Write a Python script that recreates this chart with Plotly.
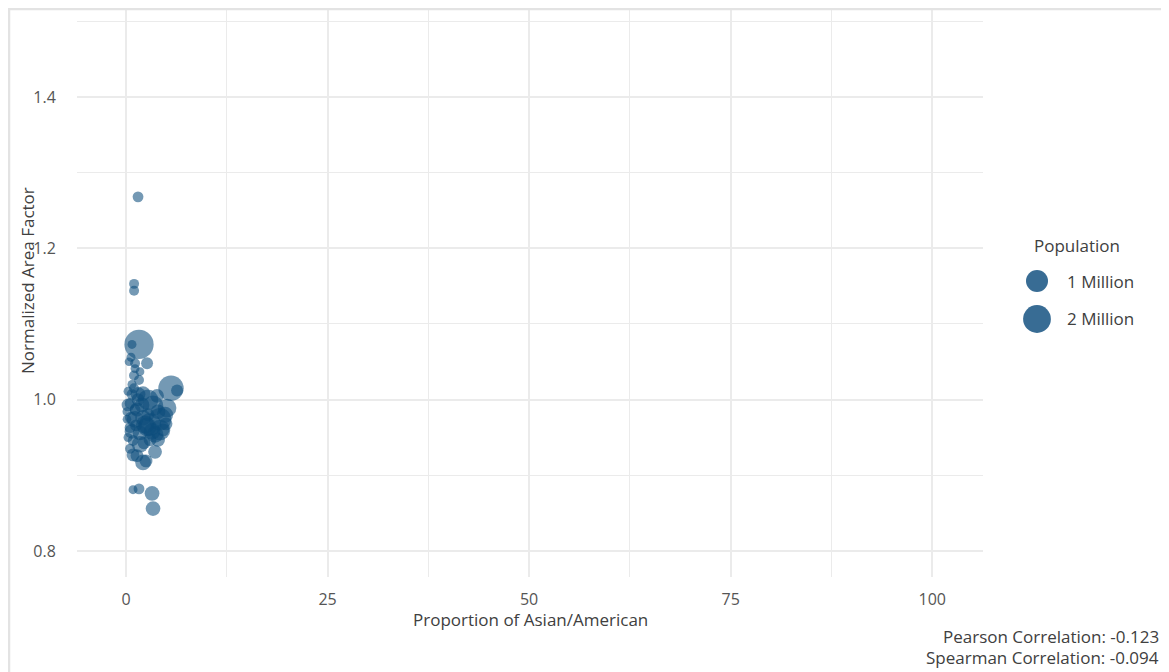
import numpy as np
import plotly.graph_objects as go

# ---- data ----
proportion_asian = [1.49, 1.00, 1.00, 1.61, 0.74, 0.62, 1.12, 2.61, 1.12, 0.99,
                    1.61, 0.74, 0.99, 5.58, 6.33, 0.25, 0.74, 2.11, 3.85, 0.50,
                    1.99, 3.35, 5.09, 0.12, 0.62, 2.11, 4.22, 4.96, 0.50, 1.74,
                    3.23, 4.59, 0.25, 0.87, 2.23, 0.50, 3.60, 1.36, 2.11, 2.48,
                    0.87, 1.61, 3.23, 3.35, 1.24, 2.73, 2.98, 0.12, 1.49, 3.97,
                    2.61, 1.12, 0.37, 1.74, 2.73, 4.22, 1.12, 1.74, 0.74, 2.98,
                    0.25, 0.87, 3.60, 1.49, 3.97, 4.84, 2.36, 1.36]
area_factor = [1.268, 1.153, 1.144, 1.073, 1.073, 1.056, 1.048, 1.048, 1.041, 1.032,
               1.026, 1.020, 1.015, 1.015, 1.012, 1.011, 1.007, 1.008, 1.005, 0.995,
               0.993, 0.992, 0.989, 0.984, 0.976, 0.976, 0.974, 0.968, 0.963, 0.956,
               0.958, 0.960, 0.950, 0.946, 0.943, 0.935, 0.931, 0.926, 0.917, 0.919,
               0.881, 0.882, 0.876, 0.856, 0.966, 0.980, 0.947, 0.974, 1.000, 0.984,
               0.964, 0.987, 1.050, 1.037, 1.000, 0.960, 0.974, 0.941, 0.958, 0.967,
               0.993, 0.927, 0.954, 1.007, 0.947, 0.980, 0.967, 0.987]
population_m = [0.04, 0.02, 0.02, 2.30, 0.005, 0.005, 0.02, 0.08, 0.005, 0.02,
                0.02, 0.005, 0.02, 1.54, 0.08, 0.005, 0.04, 0.23, 0.17, 0.04,
                0.23, 0.80, 0.58, 0.005, 0.08, 0.30, 1.07, 0.12, 0.04, 0.23,
                0.39, 0.12, 0.005, 0.04, 0.12, 0.02, 0.17, 0.12, 0.30, 0.12,
                0.005, 0.04, 0.23, 0.23, 0.08, 0.12, 0.12, 0.002, 0.12, 0.23,
                0.58, 0.04, 0.002, 0.002, 0.80, 0.80, 0.385, 0.385, 0.23, 1.07,
                0.12, 0.12, 0.385, 0.23, 0.18, 0.33, 0.51, 0.18]

legend_breaks = [1, 2]
legend_labels = ["1 Million", "2 Million"]
x_ticks = [0, 25, 50, 75, 100]
y_ticks = [0.8, 1.0, 1.2, 1.4]
pearson = -0.123
spearman = -0.094

# ---- style ----
FONT = "Open Sans, Noto Sans, DejaVu Sans, sans-serif"
POINT = "rgba(12,76,124,0.82)"
GRID = "#ebebeb"
TXT = "#404040"
OFF = 8                      # page body margin of the browser
W, H = 1169 - OFF, 672 - OFF
L, R, T, B = 69, 186, 0, 95
PW, PH = W - L - R, H - T - B


def size_of(pop):
    return 8 + 14 * np.sqrt(np.asarray(pop, dtype=float))


def px(xpix):
    return (xpix - OFF - L) / PW


def py(ypix):
    return (H - B - (ypix - OFF)) / PH


fig = go.Figure()
fig.add_trace(go.Scatter(
    x=proportion_asian, y=area_factor, mode="markers",
    marker=dict(size=size_of(population_m), sizemode="diameter",
                color=POINT, line=dict(width=0)),
    showlegend=False, hoverinfo="x+y",
))

shapes = []
annotations = []

# custom size legend
annotations.append(dict(text="Population", x=px(1032), y=py(245), xref="paper", yref="paper",
                        xanchor="left", yanchor="middle", showarrow=False,
                        font=dict(family=FONT, size=17, color=TXT)))
for i, (brk, lab) in enumerate(zip(legend_breaks, legend_labels)):
    cy = [281, 319][i]
    d = float(size_of([brk])[0])
    shapes.append(dict(type="circle", xref="paper", yref="paper",
                       xsizemode="pixel", ysizemode="pixel",
                       xanchor=px(1037), yanchor=py(cy),
                       x0=-d / 2, x1=d / 2, y0=-d / 2, y1=d / 2,
                       fillcolor=POINT, line=dict(width=0)))
    annotations.append(dict(text=lab, x=px(1065), y=py(cy), xref="paper", yref="paper",
                            xanchor="left", yanchor="middle", showarrow=False,
                            font=dict(family=FONT, size=17, color=TXT)))

# axis titles
annotations.append(dict(text="Proportion of Asian/American", x=0.5, y=py(619),
                        xref="paper", yref="paper", xanchor="center", yanchor="middle",
                        showarrow=False, font=dict(family=FONT, size=17, color=TXT)))
annotations.append(dict(text="Normalized Area Factor", x=px(27), y=py(281),
                        xref="paper", yref="paper", xanchor="center", yanchor="middle",
                        textangle=-90, showarrow=False,
                        font=dict(family=FONT, size=17, color=TXT)))

# correlation captions
annotations.append(dict(text=f"Pearson Correlation: {pearson:.3f}", x=px(1161), y=py(636),
                        xref="paper", yref="paper", xanchor="right", yanchor="middle",
                        showarrow=False, font=dict(family=FONT, size=17, color=TXT)))
annotations.append(dict(text=f"Spearman Correlation: {spearman:.3f}", x=px(1161), y=py(657),
                        xref="paper", yref="paper", xanchor="right", yanchor="middle",
                        showarrow=False, font=dict(family=FONT, size=17, color=TXT)))

# image frame (left and top edges)
shapes.append(dict(type="line", xref="paper", yref="paper", x0=px(OFF + 1), x1=px(OFF + 1),
                   y0=py(OFF), y1=py(H + OFF + 2), line=dict(color="#e3e3e3", width=2.5)))
shapes.append(dict(type="line", xref="paper", yref="paper", x0=px(OFF), x1=px(W + OFF + 2),
                   y0=py(OFF + 1), y1=py(OFF + 1), line=dict(color="#e3e3e3", width=2.5)))

fig.update_layout(
    width=W, height=H,
    margin=dict(l=L, r=R, t=T, b=B),
    plot_bgcolor="white", paper_bgcolor="white",
    font=dict(family=FONT, size=16, color=TXT),
    shapes=shapes, annotations=annotations,
    showlegend=False,
)
fig.update_xaxes(
    range=[-6.08, 106.3], tickvals=x_ticks, ticktext=[str(v) for v in x_ticks],
    showgrid=True, gridcolor=GRID, gridwidth=1.5, zeroline=False, showline=False,
    ticks="outside", ticklen=8, tickcolor="rgba(0,0,0,0)",
    tickfont=dict(family=FONT, size=16, color="#555555"),
    minor=dict(tickvals=[12.5, 37.5, 62.5, 87.5], showgrid=True, gridcolor=GRID, gridwidth=1.2),
)
fig.update_yaxes(
    range=[0.7656, 1.5176], tickvals=y_ticks, ticktext=[f"{v:.1f}" for v in y_ticks],
    showgrid=True, gridcolor=GRID, gridwidth=1.5, zeroline=False, showline=False,
    ticks="outside", ticklen=17, tickcolor="rgba(0,0,0,0)",
    tickfont=dict(family=FONT, size=16, color="#555555"),
    minor=dict(tickvals=[0.9, 1.1, 1.3, 1.5], showgrid=True, gridcolor=GRID, gridwidth=1.2),
)

fig.write_html("out.html")
